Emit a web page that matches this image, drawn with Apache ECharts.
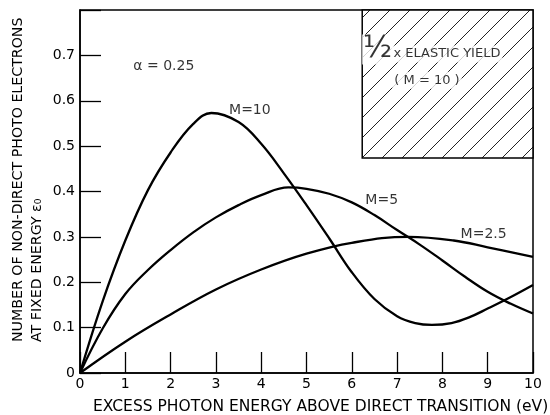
<!DOCTYPE html>
<html><head><meta charset="utf-8">
<script src="https://cdn.jsdelivr.net/npm/echarts@6/dist/echarts.min.js"></script>
<style>html,body{margin:0;padding:0;background:#fff}#c{width:550px;height:415px}</style>
</head><body><div id="c"></div>
<script>
// ---- data ----
const xTicks = [0,1,2,3,4,5,6,7,8,9,10];
const yTicks = [0,0.1,0.2,0.3,0.4,0.5,0.6,0.7];

const m10X = [0,0.5,1,1.5,2,2.5,2.9,3.5,4,4.5,5,5.5,6,6.5,7,7.4,7.77,8.2,8.6,9,9.5,10];
const m10Y = [0,0.158,0.292,0.403,0.486,0.549,0.573,0.553,0.505,0.44,0.37,0.297,0.222,0.163,0.125,0.11,0.106,0.11,0.123,0.142,0.167,0.194];

const m5X = [0,0.5,1,1.5,2,2.5,3,3.5,4,4.6,5,5.5,6,6.5,7,7.5,8,8.5,9,9.5,10];
const m5Y = [0,0.098,0.174,0.227,0.271,0.31,0.343,0.37,0.392,0.409,0.406,0.395,0.376,0.348,0.315,0.283,0.248,0.212,0.179,0.153,0.131];

const m25X = [0,1,2,3,4,5,6,7.25,8.25,9,10];
const m25Y = [0,0.069,0.129,0.184,0.228,0.263,0.287,0.300,0.292,0.277,0.256];

// hatched "elastic yield" region: x from..to, y from..to
const boxX = [6.23, 10];
const boxY = [0.474, 0.8];

// annotations
const curveLabels = ['M=10','M=5','M=2.5','α = 0.25'];
const curveLabelX = [3.75, 6.66, 8.91, 1.85];
const curveLabelY = [0.579, 0.381, 0.306, 0.676];

const boxLabels = ['x ELASTIC YIELD', '( M = 10 )', '½'];
const boxLabelX = [8.1, 7.66, 6.57];
const boxLabelY = [0.703, 0.645, 0.713];

const xTitle = 'EXCESS PHOTON ENERGY ABOVE DIRECT TRANSITION (eV)';
const yTitle1 = 'NUMBER OF NON-DIRECT PHOTO ELECTRONS';
const yTitle2 = 'AT FIXED ENERGY ε₀';

// ---- chart ----
const FONT = 'DejaVu Sans';
const pairs = (xs, ys) => xs.map((x, i) => [x, ys[i]]);

const pc = document.createElement('canvas');
pc.width = 20; pc.height = 20;
const g = pc.getContext('2d');
g.fillStyle = '#fff'; g.fillRect(0,0,20,20);
g.strokeStyle = '#222'; g.lineWidth = 1;
g.beginPath();
g.moveTo(0,20); g.lineTo(20,0);
g.moveTo(-5,5); g.lineTo(5,-5);
g.moveTo(15,25); g.lineTo(25,15);
g.stroke();

const chart = echarts.init(document.getElementById('c'), null, {renderer:'canvas'});
const lineStyle = {color:'#000', width:2.3};
const curve = (name, xs, ys) => ({
  name, type:'line', data: pairs(xs, ys), smooth: 0.4, showSymbol:false,
  lineStyle, itemStyle:{color:'#000'}, z:3, silent:true
});

chart.setOption({
  animation:false,
  backgroundColor:'#fff',
  grid:{left:80, right:17, top:10, bottom:42, show:true, borderColor:'#000', borderWidth:1.5, backgroundColor:'transparent'},
  xAxis:{
    type:'value', min:xTicks[0], max:xTicks[xTicks.length-1], interval:1,
    axisLine:{lineStyle:{color:'#000', width:1.5}},
    axisTick:{inside:true, length:21, lineStyle:{color:'#000', width:1.3}},
    axisLabel:{color:'#000', fontFamily:FONT, fontSize:14, margin:4},
    splitLine:{show:false}
  },
  yAxis:{
    type:'value', min:0, max:0.8, interval:0.1,
    axisLine:{lineStyle:{color:'#000', width:1.5}},
    axisTick:{inside:true, length:21, lineStyle:{color:'#000', width:1.3}},
    axisLabel:{color:'#000', fontFamily:FONT, fontSize:14, margin:5,
      formatter: v => { const t = yTicks.find(k => Math.abs(k - v) < 1e-6); return t === undefined ? '' : (t === 0 ? '0' : t.toFixed(1)); }},
    splitLine:{show:false}
  },
  series:[
    {
      type:'line', data:[], z:1, silent:true,
      markArea:{silent:true,
        itemStyle:{color:{image:pc, repeat:'repeat'}, borderColor:'#000', borderWidth:1.5},
        data:[[{coord:[boxX[0], boxY[0]]},{coord:[boxX[1], boxY[1]]}]]}
    },
    curve('M=10', m10X, m10Y),
    curve('M=5', m5X, m5Y),
    curve('M=2.5', m25X, m25Y),
    {
      type:'scatter', symbolSize:0, z:6, silent:true,
      data: curveLabels.map((t,i)=>({value:[curveLabelX[i], curveLabelY[i]], name:t})),
      label:{show:true, position:'inside', formatter: p => p.name, color:'#000', fontFamily:FONT, fontSize:14}
    },
    {
      type:'scatter', symbolSize:0, z:6, silent:true,
      data: boxLabels.map((t,i)=>({value:[boxLabelX[i], boxLabelY[i]], name:t,
        label:{fontSize: i === 2 ? 30 : 13, padding: i === 2 ? [0,1] : [2,2],
               backgroundColor: '#fff'}})),
      label:{show:true, position:'inside', formatter: p => p.name, color:'#000', fontFamily:FONT}
    }
  ],
  graphic:[
    {type:'text', x:93, y:407, silent:true,
      style:{text:xTitle, fill:'#000', font:'15.5px "DejaVu Sans"', textAlign:'left', textVerticalAlign:'middle'}},
    {type:'text', x:18, y:342, rotation:Math.PI/2, silent:true,
      style:{text:yTitle1, fill:'#000', font:'14.2px "DejaVu Sans"', textAlign:'left', textVerticalAlign:'middle'}},
    {type:'text', x:37, y:342, rotation:Math.PI/2, silent:true,
      style:{text:yTitle2, fill:'#000', font:'14.2px "DejaVu Sans"', textAlign:'left', textVerticalAlign:'middle'}}
  ]
});
</script>
</body></html>
